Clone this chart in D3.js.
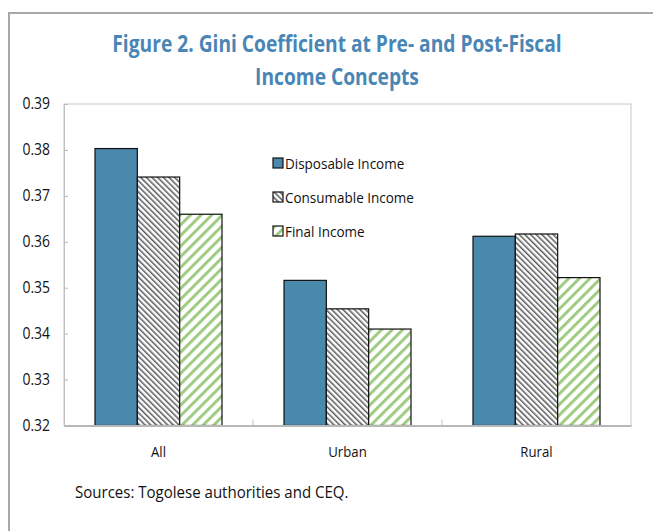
<!DOCTYPE html>
<html>
<head>
<meta charset="utf-8">
<script src="https://cdn.jsdelivr.net/npm/d3@7"></script>
<style>
  html, body { margin: 0; padding: 0; background: #fff; }
  svg { display: block; }
  .lbl { font-family: "Open Sans", "Noto Sans", sans-serif; }
</style>
</head>
<body>
<svg id="chart" width="653" height="531"></svg>
<script>
// Gini coefficients by area and income concept
const categories = ["All", "Urban", "Rural"];
const seriesNames = ["Disposable Income", "Consumable Income", "Final Income"];
const disposable = [0.3803, 0.3516, 0.3612];
const consumable = [0.3741, 0.3454, 0.3617];
const finalIncome = [0.3660, 0.3410, 0.3522];
const yTicks = [0.32, 0.33, 0.34, 0.35, 0.36, 0.37, 0.38, 0.39];
const titleLines = ["Figure 2. Gini Coefficient at Pre- and Post-Fiscal", "Income Concepts"];
const sourceNote = "Sources: Togolese authorities and CEQ.";

const seriesValues = [disposable, consumable, finalIncome];
const rows = categories.map((c, i) => ({
  category: c,
  values: seriesNames.map((s, j) => ({ series: s, value: seriesValues[j][i] }))
}));

// Narrow the glyphs horizontally around each text's anchor to get a condensed face
function condense(sel, factor) {
  sel.each(function () {
    const x = +d3.select(this).attr("x") || 0;
    d3.select(this).attr("transform", `translate(${x * (1 - factor)},0) scale(${factor},1)`);
  });
}

const svg = d3.select("#chart");
const defs = svg.append("defs");

// Hatch patterns
const pDark = defs.append("pattern").attr("id", "hatchDark")
  .attr("patternUnits", "userSpaceOnUse").attr("width", 4).attr("height", 4)
  .attr("patternTransform", "rotate(-45)");
pDark.append("rect").attr("width", 4).attr("height", 4).attr("fill", "#fff");
pDark.append("rect").attr("x", 0).attr("y", 0).attr("width", 1.5).attr("height", 4).attr("fill", "#5a5a5a");

const pGreen = defs.append("pattern").attr("id", "hatchGreen")
  .attr("patternUnits", "userSpaceOnUse").attr("width", 7.5).attr("height", 7.5)
  .attr("patternTransform", "rotate(45)");
pGreen.append("rect").attr("width", 7.5).attr("height", 7.5).attr("fill", "#fff");
pGreen.append("rect").attr("x", 0).attr("y", 0).attr("width", 3).attr("height", 7.5).attr("fill", "#9fcb82");

const fills = { "Disposable Income": "#4a89ab", "Consumable Income": "url(#hatchDark)", "Final Income": "url(#hatchGreen)" };

// Outer frame
svg.append("rect").attr("x", 9).attr("y", 13).attr("width", 700).attr("height", 600)
  .attr("fill", "none").attr("stroke", "#a8a8a8").attr("stroke-width", 2);

// Title
const title = svg.append("g").attr("class", "lbl")
  .attr("text-anchor", "middle").attr("fill", "#4a86b5")
  .attr("font-weight", "bold").attr("font-size", 24);
title.selectAll("text").data(titleLines).join("text")
  .attr("x", 337).attr("y", (d, i) => 52 + i * 33).text(d => d)
  .call(condense, 0.80);

const plot = { left: 64, right: 631, top: 104, bottom: 425.5 };

const x0 = d3.scaleBand().domain(categories).range([plot.left, plot.right]).padding(0);
const gap = 31;
const x1 = d3.scaleBand().domain(seriesNames).range([gap, x0.bandwidth() - gap]).padding(0);
const y = d3.scaleLinear().domain([0.32, 0.39]).range([plot.bottom, plot.top]);

// Plot area border
svg.append("rect").attr("x", plot.left).attr("y", plot.top)
  .attr("width", plot.right - plot.left).attr("height", plot.bottom - plot.top)
  .attr("fill", "none").attr("stroke", "#c8c8c8").attr("stroke-width", 1);

// Bars
const groups = svg.append("g").selectAll("g").data(rows).join("g")
  .attr("transform", d => `translate(${x0(d.category)},0)`);
groups.selectAll("rect").data(d => d.values).join("rect")
  .attr("x", d => x1(d.series))
  .attr("y", d => y(d.value))
  .attr("width", x1.bandwidth())
  .attr("height", d => y(0.32) - y(d.value))
  .attr("fill", d => fills[d.series])
  .attr("stroke", "#111").attr("stroke-width", 1.2);

// Y axis
const yAxis = d3.axisLeft(y).tickValues(yTicks).tickFormat(d3.format(".2f")).tickSize(-4).tickPadding(14);
const gy = svg.append("g").attr("transform", `translate(${plot.left},0)`).call(yAxis);
gy.select(".domain").attr("stroke", "#c0c0c0");
gy.selectAll(".tick line").attr("stroke", "#b8b8b8");
gy.selectAll(".tick text").attr("class", "lbl").attr("font-size", 15.5).attr("fill", "#111")
  .call(condense, 0.9);

// X axis
const xAxis = d3.axisBottom(x0).tickSize(0).tickPadding(21);
const gx = svg.append("g").attr("transform", `translate(0,${plot.bottom})`).call(xAxis);
gx.select(".domain").attr("stroke", "#b8b8b8").attr("stroke-width", 2);
gx.selectAll(".tick text").attr("class", "lbl").attr("font-size", 15).attr("fill", "#111")
  .call(condense, 0.88);
// Category separator ticks
svg.append("g").selectAll("line").data(categories.slice(1)).join("line")
  .attr("x1", d => x0(d)).attr("x2", d => x0(d))
  .attr("y1", plot.bottom - 6).attr("y2", plot.bottom)
  .attr("stroke", "#c0c0c0");

// Legend
const legend = svg.append("g").attr("transform", "translate(273,158)");
const li = legend.selectAll("g").data(seriesNames).join("g")
  .attr("transform", (d, i) => `translate(0,${i * 34})`);
li.append("rect").attr("width", 10).attr("height", 10)
  .attr("fill", d => fills[d]).attr("stroke", "#111").attr("stroke-width", 1.2);
li.append("text").attr("class", "lbl").attr("x", 12).attr("y", 10.5)
  .attr("font-size", 15).attr("fill", "#111").text(d => d)
  .call(condense, 0.9);

// Source note
svg.append("text").attr("class", "lbl").attr("x", 75).attr("y", 498)
  .attr("font-size", 16).attr("fill", "#111").text(sourceNote)
  .call(condense, 0.94);
</script>
</body>
</html>
